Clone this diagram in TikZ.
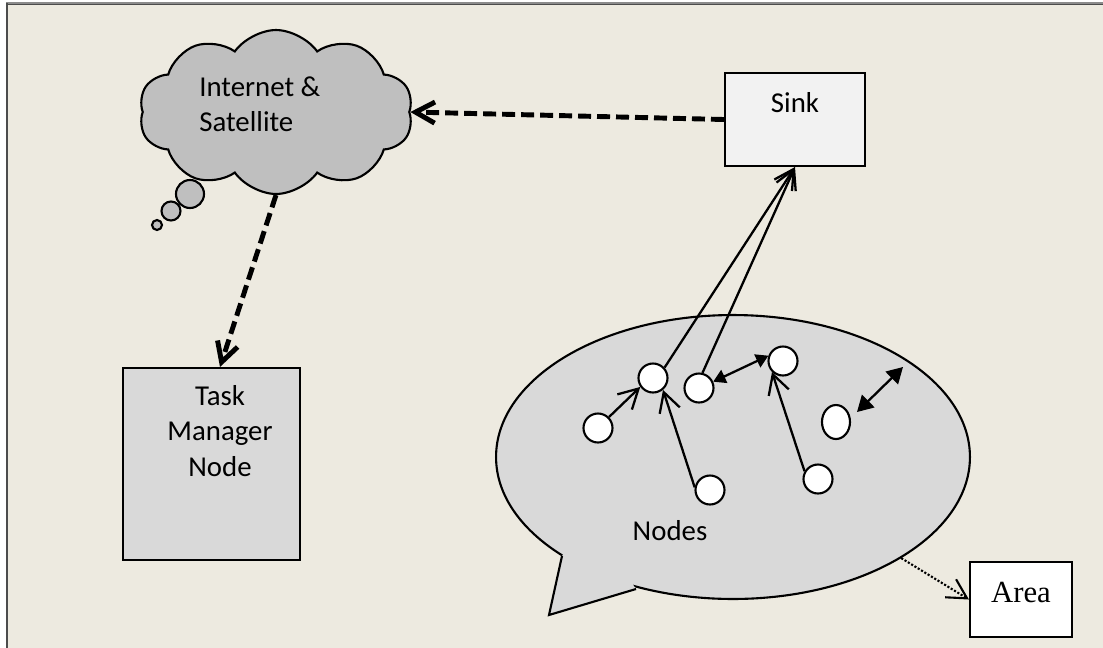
\documentclass[tikz,border=0pt]{standalone}
\usepackage{fontspec}
\setmainfont{Carlito}
\newfontfamily\areafont{Liberation Serif}
\usetikzlibrary{arrows.meta,positioning,shapes.geometric,shapes.symbols}

\definecolor{paper}{RGB}{237,234,224}
\definecolor{cloudgray}{RGB}{191,191,191}
\definecolor{fieldgray}{RGB}{217,217,217}
\definecolor{sinkgray}{RGB}{242,242,242}

\tikzset{
	barb/.tip={Straight Barb[length=11pt,width=12pt]},
	tri/.tip={Triangle[length=7pt,width=8pt]},
	bigtri/.tip={Triangle[length=9pt,width=10pt]},
}

\begin{document}
\begin{tikzpicture}[x=0.02cm,y=-0.02cm,>=barb,
	every node/.style={font=\fontsize{16.4}{20.2}\selectfont},
	sensor/.style={circle,draw,fill=white,line width=1.2pt,inner sep=0pt,minimum size=0.58cm},
	box/.style={draw,line width=1.2pt,inner sep=0pt},
	link/.style={->,line width=1.3pt},
	uplink/.style={->,line width=2.8pt,dash pattern=on 0.26cm off 0.12cm}]
	\useasboundingbox (0,0) rectangle (1103,647);
	\fill[white] (0,0) rectangle (1103,647);
	\fill[paper] (7,3) rectangle (1110,655);
	\draw[line width=1.1pt,black!45] (6,3) -- (1110,3);
	\draw[line width=0.5pt,black!70] (6,4.5) -- (1110,4.5);
	\draw[line width=1.2pt,black!70] (7,3) -- (7,655);

	% cloud and its puffs
	\node[cloud,draw,fill=cloudgray,line width=1.2pt,cloud puffs=10,cloud puff arc=110,
		aspect=1.67,minimum width=5.48cm,minimum height=3.28cm,inner sep=0] (net) at (276,112) {};
	\draw[line width=1.2pt,fill=cloudgray] (190,194) circle[radius=14];
	\draw[line width=1.2pt,fill=cloudgray] (171,211) circle[radius=9.5];
	\draw[line width=1.2pt,fill=cloudgray] (157,225) circle[radius=5];
	\node[anchor=north west,align=left,inner sep=0] (nettext) at (199,76) {Internet \&\\Satellite};

	\node[box,fill=sinkgray,minimum width=2.8cm,text height=0.78cm,text depth=1.08cm] (sink) at (795,119.5) {Sink};

	\node[box,fill=fieldgray,minimum width=3.54cm,minimum height=3.84cm] (tm) at (211.5,464) {};
	\node[align=center,inner sep=0,below=0.36cm of tm.north,xshift=0.17cm] (tmtext) {Task\\Manager\\Node};

	% field with its tail
	\node[ellipse,draw,fill=fieldgray,line width=1.2pt,minimum width=9.48cm,minimum height=5.68cm,inner sep=0] (field) at (733,457) {};
	\fill[fieldgray] (562,556) -- (549,615) -- (636,589) -- (630,580) -- (566,550) -- cycle;
	\draw[line width=1.2pt,line join=miter] (562,556) -- (549,615) -- (636,589);
	\node[anchor=base] (nodestext) at (670,540) {Nodes};

	\node[sensor] (nA) at (598,428) {};
	\node[sensor] (nB) at (653,378) {};
	\node[sensor] (nC) at (699,388) {};
	\node[sensor] (nD) at (783,361) {};
	\node[sensor,ellipse,minimum width=0.56cm,minimum height=0.68cm] (nE) at (836,422) {};
	\node[sensor] (nF) at (710,490) {};
	\node[sensor] (nG) at (818,479) {};

	\node[box,fill=white,minimum width=2.04cm,text height=0.8cm,text depth=0.7cm,
		font=\areafont\fontsize{17.5}{20}\selectfont] (area) at (1021,599.5) {Area};

	\coordinate (hopA) at (857,412);
	\coordinate (hopB) at (903,367);

	\path[link]
	(nA.45) edge (nB.215)
	(nF.170) edge (nB.-50)
	(nG.150) edge (nD.225)
	(nB.42) edge (sink.south)
	(nC.77) edge (sink.south)
	(nC.24) edge[tri-tri] (nD.160)
	(hopA) edge[bigtri-bigtri] (hopB)
	;
	\path[uplink]
	(sink.west) edge (net.east)
	(net.south) edge ([xshift=0.17cm]tm.north)
	;
	\draw[->,line width=1.2pt,densely dotted] (field.-31) -- (area.west);
\end{tikzpicture}
\end{document}
